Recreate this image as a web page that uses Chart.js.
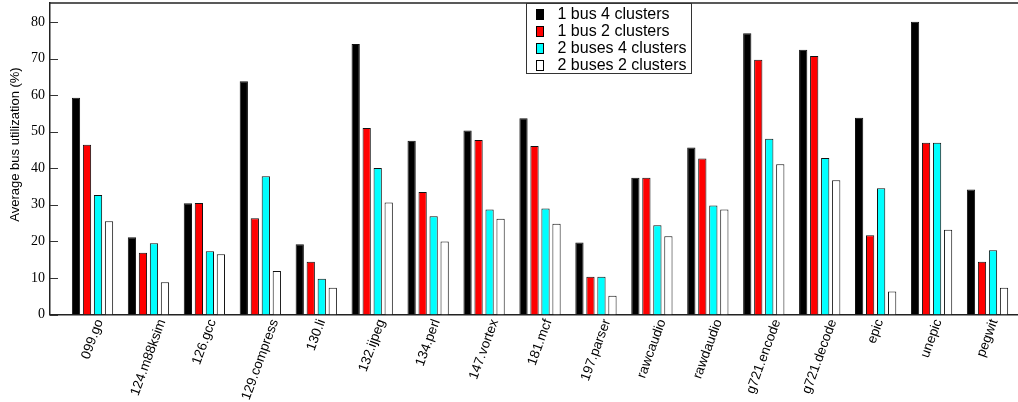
<!DOCTYPE html>
<html>
<head>
<meta charset="utf-8">
<title>Average bus utilization</title>
<script src="https://cdn.jsdelivr.net/npm/chart.js@4/dist/chart.umd.min.js"></script>
<style>
  html, body { margin: 0; padding: 0; background: #fff; }
  #wrap { width: 1018px; height: 402px; }
</style>
</head>
<body>
<div id="wrap"><canvas id="chart" width="1018" height="402"></canvas></div>
<script>
// Benchmarks along the x axis
const benchmarks = [
  '099.go', '124.m88ksim', '126.gcc', '129.compress', '130.li', '132.ijpeg',
  '134.perl', '147.vortex', '181.mcf', '197.parser', 'rawcaudio', 'rawdaudio',
  'g721.encode', 'g721.decode', 'epic', 'unepic', 'pegwit'
];

// Series names (legend order)
const seriesNames = ['1 bus 4 clusters', '1 bus 2 clusters', '2 buses 4 clusters', '2 buses 2 clusters'];

// Average bus utilization (%) per configuration
const oneBus4Clusters   = [59.3, 21.1, 30.4, 63.8, 19.2, 74.0, 47.5, 50.3, 53.7, 19.7, 37.4, 45.7, 76.9, 72.4, 53.8, 80.1, 34.2];
const oneBus2Clusters   = [46.4, 16.9, 30.5, 26.3, 14.4, 51.0, 33.5, 47.7, 46.1, 10.3, 37.4, 42.7, 69.7, 70.7, 21.7, 47.0, 14.4];
const twoBuses4Clusters = [32.7, 19.5, 17.3, 37.8,  9.8, 40.1, 26.9, 28.7, 29.0, 10.3, 24.4, 29.8, 48.1, 42.8, 34.5, 47.0, 17.6];
const twoBuses2Clusters = [25.5,  8.8, 16.5, 11.9,  7.3, 30.6, 20.0, 26.2, 24.8,  5.1, 21.4, 28.7, 41.1, 36.7,  6.3, 23.2,  7.3];

// Y axis tick values
const yTicks = [0, 10, 20, 30, 40, 50, 60, 70, 80];

const seriesValues = [oneBus4Clusters, oneBus2Clusters, twoBuses4Clusters, twoBuses2Clusters];
const seriesColors = ['#000000', '#ff0000', '#00ffff', '#ffffff'];

const datasets = seriesNames.map((name, s) => ({
  label: name,
  data: seriesValues[s].map((v, i) => ({ x: i, y: v })),
  backgroundColor: seriesColors[s],
  borderColor: '#111',
  borderWidth: 1,
  categoryPercentage: 0.787,
  barPercentage: 0.75
}));

const LABEL_ANGLE = 70 * Math.PI / 180;
const LABEL_SIZE = 13.5;

// Frame line on top, inward y ticks, slanted benchmark names, y title and the boxed legend
const decorations = {
  id: 'decorations',
  afterDraw(chart) {
    const { ctx, chartArea, scales } = chart;
    ctx.save();

    // top frame line
    ctx.strokeStyle = '#222';
    ctx.lineWidth = 1.5;
    ctx.beginPath();
    ctx.moveTo(chartArea.left, chartArea.top);
    ctx.lineTo(chartArea.right, chartArea.top);
    ctx.stroke();

    // y tick marks pointing into the plot
    ctx.lineWidth = 1;
    ctx.strokeStyle = '#333';
    scales.y.ticks.forEach(t => {
      const y = Math.round(scales.y.getPixelForValue(t.value)) + 0.5;
      ctx.beginPath();
      ctx.moveTo(chartArea.left, y);
      ctx.lineTo(chartArea.left + 8, y);
      ctx.stroke();
    });

    // benchmark names, slanted and centred under each group
    ctx.fillStyle = '#000';
    ctx.font = LABEL_SIZE + 'px "Liberation Sans", Arial, sans-serif';
    ctx.textAlign = 'right';
    ctx.textBaseline = 'middle';
    const cosA = Math.cos(LABEL_ANGLE);
    const labelTop = chartArea.bottom + 3;
    scales.x.ticks.forEach((t, i) => {
      const name = benchmarks[i];
      const cx = scales.x.getPixelForValue(t.value);
      const w = ctx.measureText(name).width;
      ctx.save();
      ctx.translate(cx + w * cosA / 2, labelTop + (LABEL_SIZE / 2) * cosA);
      ctx.rotate(-LABEL_ANGLE);
      ctx.fillText(name, 0, 0);
      ctx.restore();
    });

    // y axis title
    ctx.font = '13px "Liberation Sans", Arial, sans-serif';
    ctx.textAlign = 'center';
    ctx.textBaseline = 'middle';
    ctx.translate(15, 144.5);
    ctx.rotate(-Math.PI / 2);
    ctx.fillText('Average bus utilization (%)', 0, 0);
    ctx.setTransform(1, 0, 0, 1, 0, 0);

    // legend box
    const bx = 526, by = 3, bw = 165, bh = 70;
    ctx.fillStyle = '#fff';
    ctx.fillRect(bx, by, bw, bh);
    ctx.strokeStyle = '#333';
    ctx.lineWidth = 1;
    ctx.strokeRect(bx + 0.5, by + 0.5, bw, bh);

    ctx.font = '16px "Liberation Sans", Arial, sans-serif';
    ctx.textAlign = 'left';
    ctx.textBaseline = 'middle';
    chart.data.datasets.forEach((ds, k) => {
      const cy = 14.5 + k * 17;
      ctx.fillStyle = ds.backgroundColor;
      ctx.fillRect(536.5, cy - 5, 7, 10);
      ctx.strokeStyle = '#000';
      ctx.strokeRect(536.5, cy - 5, 7, 10);
      ctx.fillStyle = '#000';
      ctx.fillText(ds.label, 557.5, cy + 0.5);
    });
    ctx.restore();
  }
};

new Chart(document.getElementById('chart'), {
  type: 'bar',
  data: { datasets },
  plugins: [decorations],
  options: {
    responsive: false,
    animation: false,
    devicePixelRatio: 1,
    layout: { padding: { top: 3, left: 0, right: 0, bottom: 0 } },
    plugins: {
      legend: { display: false },
      tooltip: { enabled: false }
    },
    scales: {
      x: {
        type: 'linear',
        min: -0.76,
        max: 16.545,
        offset: false,
        grid: { display: false, drawTicks: false },
        border: { display: true, color: '#222', width: 1.5 },
        afterBuildTicks: s => { s.ticks = benchmarks.map((_, i) => ({ value: i })); },
        afterFit: s => { s.height = 87.5; s.paddingLeft = 0; s.paddingRight = 0; },
        ticks: { display: false }
      },
      y: {
        min: 0,
        max: 85.2,
        grid: { display: false, drawTicks: false },
        border: { display: true, color: '#222', width: 1.5 },
        afterBuildTicks: s => { s.ticks = yTicks.map(v => ({ value: v })); },
        afterFit: s => { s.width = 50; s.paddingTop = 0; s.paddingBottom = 0; },
        ticks: {
          padding: 5,
          color: '#000',
          font: { family: '"Liberation Serif", "Times New Roman", serif', size: 14 }
        }
      }
    }
  }
});
</script>
</body>
</html>
